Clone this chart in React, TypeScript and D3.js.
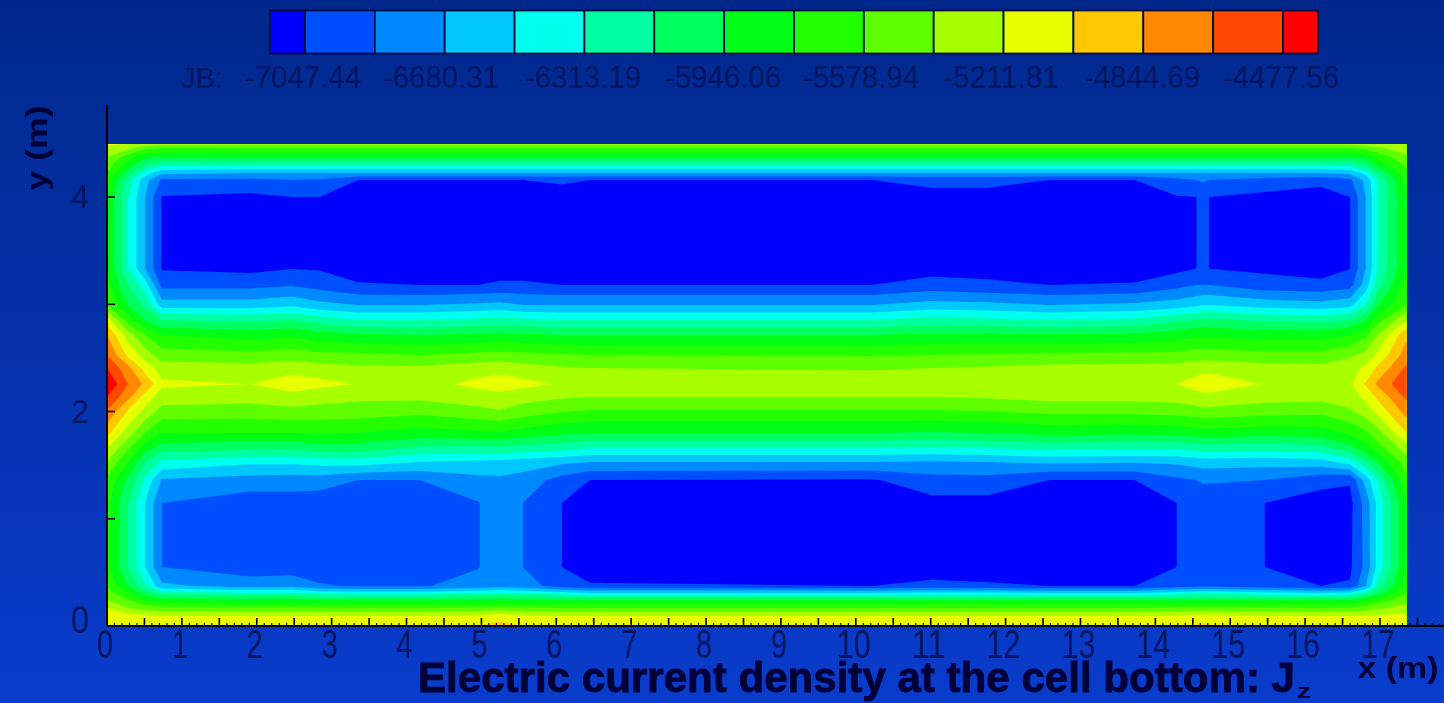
import React, { useMemo } from "react";
import * as d3 from "d3";

const W = 1444;
const H = 703;

// legend
const legendLabels = ["-7047.44", "-6680.31", "-6313.19", "-5946.06", "-5578.94", "-5211.81", "-4844.69", "-4477.56"];
const legendValues = [-7047.44, -6680.31, -6313.19, -5946.06, -5578.94, -5211.81, -4844.69, -4477.56];
const bandColors = ["#0000ff", "#0050ff", "#0088ff", "#00c8ff", "#00ffec", "#00ffa0", "#00ff60", "#00ff14", "#20ff00", "#60ff00", "#a8ff00", "#e8ff00", "#ffc800", "#ff8800", "#ff4800", "#ff0000"];
const xTickLabels = d3.range(0, 18);
const yTickLabels = [0, 2, 4];

// mesh nodes, metres
const colsX = [0, 0.28, 0.507, 0.734, 1.909, 2.47, 2.844, 3.351, 4.179, 4.953, 5.247, 5.554, 6.075, 6.449, 10.214, 11.015, 11.762, 12.59, 13.725, 14.286, 14.539, 14.633, 14.726, 15.461, 16.208, 16.596, 16.809, 16.969, 17.356];
const rowsY = [4.494, 4.457, 4.373, 4.298, 4.224, 4.159, 3.991, 3.338, 3.179, 2.993, 2.853, 2.713, 2.527, 2.406, 2.256, 2.135, 2.014, 1.8, 1.66, 1.529, 1.361, 1.147, 0.55, 0.373, 0.308, 0.242, 0.168, 0.093, 0];

// Jz, expressed in legend steps (0 = -7047.44, 14 = -4477.56), one list per mesh row from the top
const j00 = [10.3,10,9.5,9.3, 9.2,9.2,9.2,9.2,9.2, 9.2,9.2,9.2,9.2,9.2, 9.2,9.2,9.2,9.2,9.2, 9.2,9.2,9.2,9.2,9.2, 9.2,9.2, 9.4,9.7,10];
const j01 = [9.5,9.3,8.3,8, 8,8,8,8,8, 8,8,8,8,8, 8,8,8,8,8, 8,8,8,8,8, 8,8, 8.3,8.8,9.5];
const j02 = [9,7.5,6.3,6, 6,6,6,6,6, 6,6,6,6,6, 6,6,6,6,6, 6,6,6,6,6, 6,6, 6.3,7.3,8.8];
const j03 = [8.5,6.5,5,4.2, 4,4,4,4,4, 4,4,4,4,4, 4,4,4,4,4, 4,4,4,4,4, 4,4.2, 5,6.3,8.2];
const j04 = [8,5.5,3.5,2.3, 2,2,2,2,2, 2,2,2,2,2, 2,2,2,2,2, 2,2,2,2,2, 2,2.3, 3.3,5,7.8];
const j05 = [7.5,4.5,2.4,.8, .8,1,.9,0,0, 0,0,0,.2,0, 0,.3,.3,0,0, .7,1,1.1,1,.6, .3,.8, 2.3,4,7.4];
const j06 = [7,4,2,-.1, -.3,-.05,-.05,-.6,-.6, -.6,-.6,-.6,-.6,-.6, -.6,-.4,-.4,-.6,-.6, -.1,-.05,.4,-.05,-.3, -.5,-.05, 2,4,7];
const j07 = [7,4,2,-.1, -.3,-.05,-.1,-.5,-.6, -.6,-.6,-.6,-.6,-.6, -.6,-.4,-.4,-.6,-.6, -.3,-.05,.4,-.05,-.2, -.5,-.05, 2,4,7];
const j08 = [7.3,5,3.5,.7, .7,.9,.6,.1,0, 0,.2,.2,0,0, 0,.4,.2,0,.1, .7,1,1,1,.4, .3,.6, 2.5,4.5,7.5];
const j09 = [8,6,4.8,2.5, 2.5,2.8,2.3,2,2, 2.2,2.3,2,2,2, 2,2.4,2.3,2,2.2, 2.5,2.8,3,3,2.6, 2.4,2.7, 4,6,8];
const j10 = [10.5,7.5,6,5, 4.8,5,4.5,4,4, 4.2,4.4,4.2,4,4, 4,4.4,4.2,4,4.2, 4.8,5,5.2,5.2,4.8, 4.7,5, 6,7.5,10];
const j11 = [12,9.5,8,7, 6.6,6.8,6.4,6.2,6, 6.2,6.3,6.2,6,6, 6,6.2,6.2,6.1,6.2, 6.5,6.8,6.8,6.8,6.6, 6.6,7, 7.8,9,11.8];
const j12 = [13,10.8,9.5,8.5, 8.3,8.5,8.3,8.2,8, 8.3,8.4,8.3,8.1,8, 7.9,8,8.1,8.2,8.3, 8.3,8.5,8.5,8.5,8.3, 8.3,8.8, 9.3,10.2,12.5];
const j13 = [14,12.3,10.6,9.5, 9.4,9.6,9.4,9.2,9.2, 9.5,9.6,9.4,9.1,9, 8.9,9,9.1,9.3,9.3, 9.4,9.6,9.7,9.7,9.4, 9.3,9.6, 10.2,11.2,13.2];
const j14 = [15,13,11.8,10.2, 10,10.6,10.3,9.95,9.6, 10.3,10.6,10.3,9.9,9.7, 9.6,9.7,9.7,9.7,9.8, 10,10.4,10.5,10.6,9.95, 9.8,9.8, 11.1,12.2,13.9];
const j15 = [14,12.3,10.6,9.5, 9.4,9.6,9.4,9.2,9.2, 9.5,9.6,9.4,9.1,9, 9,9,9.1,9.3,9.3, 9.4,9.6,9.7,9.7,9.4, 9.3,9.6, 10.2,11.2,13.2];
const j16 = [13,11,9.8,8.7, 8.6,8.8,8.7,8.6,8.4, 8.8,9,8.6,8.2,8, 8,8,8.1,8.4,8.4, 8.5,8.7,8.8,8.8,8.5, 8.4,8.9, 9.6,10.4,12.5];
const j17 = [11.3,9.5,8,7, 7,7,7.1,7,6.6, 6.8,6.9,6.6,6.2,6, 6,5.9,6,6.3,6.2, 6.3,6.5,6.6,6.6,6.4, 6.5,7.2, 7.8,8.6,11];
const j18 = [10,8.2,6.5,5.5, 5.3,5.2,5.6,5.5,4.8, 4.7,4.8,4.6,4.4,4, 4,3.9,4,4.3,4.2, 4.2,4.4,4.5,4.5,4.4, 4.6,5.7, 6.6,7.6,9.5];
const j19 = [9,7,5,3.8, 3.2,3.2,3.4,3.5,3, 2.8,2.7,2.5,2.2,2, 2,1.9,2,2.2,2.1, 2.2,2.4,2.5,2.5,2.4, 2.6,3.4, 4.8,6,8.5];
const j20 = [7.8,5.8,3.8,1.9, 1.6,1.5,1.5,1,1, 1.7,1.8,1.6,.6,0, -.1,.6,.6,0,0, .8,1,1.1,1.1,1, .3,.1, 2.4,4,7.8];
const j21 = [7.3,5,3,1, .4,.5,.4,.1,.2, .95,1.5,1,0,-.4, -.5,-.3,-.3,-.5,-.5, 0,.4,.5,.5,0, -.4,-.3, 1.4,3.3,7];
const j22 = [7.3,5,3,1, .4,.4,.4,.3,.4, .95,1.5,1,0,-.5, -.5,-.4,-.4,-.5,-.5, 0,.4,.5,.5,0, -.4,-.2, 1.3,3.3,7];
const j23 = [8,6,4.2,2.2, 1.6,1.8,1.1,.9,.9, 1.4,1.6,1.4,.6,.1, 0,.2,.1,0,0, .5,.7,.8,.8,.4, 0,.1, 2,4.3,7.5];
const j24 = [8.5,7,5.5,4.5, 4,4,3.6,3.4,3.4, 3.8,4,3.8,3.4,3, 3,3.2,3.2,3,3, 3.4,3.6,3.7,3.7,3.3, 3,3.2, 4.2,5.5,8];
const j25 = [9,8,7,6.5, 6.3,6.4,6.2,6,6, 6.3,6.4,6.3,6,6, 6,6.1,6.1,6,6, 6.1,6.2,6.2,6.2,6.1, 6,6.2, 6.7,7.5,8.5];
const j26 = [10,9,8.6,8.3, 8.2,8.2,8.1,8,8, 8.2,8.3,8.2,8,8, 8,8,8,8,8, 8.1,8.2,8.2,8.2,8.1, 8,8.2, 8.4,8.8,9.5];
const j27 = [10.8,10.4,10.2,10, 10,10,10,10,10, 10.3,10.6,10.3,10,10, 10,10,10,10,10, 10.2,10.4,10.5,10.4,10.1, 10,10, 10,10.1,10.3];
const j28 = [11,10.9,10.8,10.8, 10.8,10.8,10.8,10.8,10.8, 11,11.3,11,10.8,10.8, 10.8,10.8,10.8,10.8,10.8, 10.9,11.1,11.2,11.1,10.9, 10.8,10.8, 10.8,10.8,10.9];
const jRows = [j00,j01,j02,j03,j04,j05,j06,j07,j08,j09,j10,j11,j12,j13,j14,j15,j16,j17,j18,j19,j20,j21,j22,j23,j24,j25,j26,j27,j28];

const INK = "#00145e";
const DARK = "#000538";

const x = d3.scaleLinear().domain([0, 17]).range([107, 1380]);
const y = d3.scaleLinear().domain([0, 4]).range([626, 197]);
const stepToValue = d3.scaleLinear().domain([0, 14]).range([legendValues[0], legendValues[7]]);
const thresholds = d3.range(15).map((k) => stepToValue(k));

// legend strip: boundary positions along the strip, one per threshold
const legendX = d3.scaleLinear().domain([legendValues[0], legendValues[7]]).range([305, 1283]);

function NarrowText(p: { x: number; y: number; w: number; size: number; children: any; anchor?: string; weight?: any; fill?: string; stroke?: number }) {
  return (
    <text x={p.x} y={p.y} fontSize={p.size} fontFamily="Liberation Sans" fontWeight={p.weight ?? 400} fill={p.fill ?? INK}
      stroke={p.stroke ? (p.fill ?? INK) : "none"} strokeWidth={p.stroke ?? 0}
      textAnchor={p.anchor ?? "middle"} textLength={p.w} lengthAdjust="spacingAndGlyphs">{p.children}</text>
  );
}

export default function App() {
  const paths = useMemo(() => {
    const nx = colsX.length;
    const ny = rowsY.length;
    const flat = jRows.flat().map((s) => stepToValue(s));
    const cx = d3.scaleLinear().domain(colsX.map((_, i) => i + 0.5)).range(colsX.map((v) => x(v))).clamp(true);
    const cy = d3.scaleLinear().domain(rowsY.map((_, i) => i + 0.5)).range(rowsY.map((v) => y(v))).clamp(true);
    const proj = d3.geoTransform({ point(px: number, py: number) { (this as any).stream.point(cx(px), cy(py)); } });
    const gp = d3.geoPath(proj);
    return d3.contours().size([nx, ny]).thresholds(thresholds)(flat).map((c: any, i: number) => ({ d: gp(c) as string, fill: bandColors[i + 1] }));
  }, []);

  const xEnd = x.invert(1444);
  const minor = d3.range(0, Math.floor(xEnd * 10) + 1).map((k) => k / 10);
  const left = x(colsX[0]);
  const right = x(colsX[colsX.length - 1]);
  const top = y(rowsY[0]);
  const bottom = y(0);

  const bounds = [270, ...thresholds.map((t) => legendX(t)), 1318];

  return (
    <svg width={W} height={H} viewBox={`0 0 ${W} ${H}`} style={{ position: "fixed", left: 0, top: 0 }}>
      <defs>
        <linearGradient id="bg" x1="0" y1="0" x2="0" y2="1">
          <stop offset="0" stopColor="#00288c" />
          <stop offset="1" stopColor="#0a3ccc" />
        </linearGradient>
        <filter id="soft" x="-2%" y="-2%" width="104%" height="104%">
          <feGaussianBlur stdDeviation="0.7" />
        </filter>
      </defs>
      <rect width={W} height={H} fill="url(#bg)" />
      <g filter="url(#soft)">
        <rect x={left} y={top} width={right - left} height={bottom - top} fill={bandColors[0]} />
        {paths.map((p, i) => <path key={i} d={p.d} fill={p.fill} />)}
      </g>
      <g filter="url(#soft)">
        {/* legend */}
        {bandColors.map((c, i) => (
          <rect key={i} x={bounds[i]} y={10.5} width={bounds[i + 1] - bounds[i]} height={43} fill={c} stroke="#001040" strokeWidth={1.8} />
        ))}
        <NarrowText x={202} y={88} w={42} size={30}>JB:</NarrowText>
        {legendLabels.map((l, i) => (
          <NarrowText key={l} x={[303, 441, 583, 723, 861, 1001, 1142, 1281][i]} y={88} w={116} size={31}>{l}</NarrowText>
        ))}
        {/* axes */}
        <line x1={left} x2={left} y1={105} y2={bottom} stroke="#000" strokeWidth={2} />
        <line x1={left} x2={W} y1={bottom} y2={bottom} stroke="#000" strokeWidth={2} />
        {[0, 1, 2, 3, 4].map((t) => <line key={t} x1={left} x2={left + 8} y1={y(t)} y2={y(t)} stroke="#000" strokeWidth={1.6} />)}
        {minor.map((t, i) => (
          <line key={i} x1={x(t)} x2={x(t)} y1={bottom} y2={bottom - (i % 5 === 0 ? 8 : 3)} stroke="#000" strokeWidth={i % 5 === 0 ? 1.6 : 1.2} />
        ))}
        {xTickLabels.map((t) => (
          <NarrowText key={t} x={x(t) - 2} y={658} w={t < 10 ? 16 : 34} size={41}>{t}</NarrowText>
        ))}
        {yTickLabels.map((t) => (
          <NarrowText key={t} x={80} y={y(t) + (t === 0 ? 7 : 11)} w={18} size={t === 0 ? 38 : 34}>{t}</NarrowText>
        ))}
        <g transform="translate(47,148) rotate(-90)">
          <NarrowText x={0} y={0} w={85} size={29} weight={700} fill={DARK}>y (m)</NarrowText>
        </g>
        <NarrowText x={1398} y={678} w={81} size={30} weight={700} fill={DARK}>x (m)</NarrowText>
        <NarrowText x={418} y={692} w={877} size={42} weight={700} anchor="start" fill={DARK} stroke={0.9}>Electric current density at the cell bottom: J</NarrowText>
        <NarrowText x={1297} y={698} w={14} size={21} weight={700} anchor="start" fill={DARK}>z</NarrowText>
      </g>
    </svg>
  );
}
